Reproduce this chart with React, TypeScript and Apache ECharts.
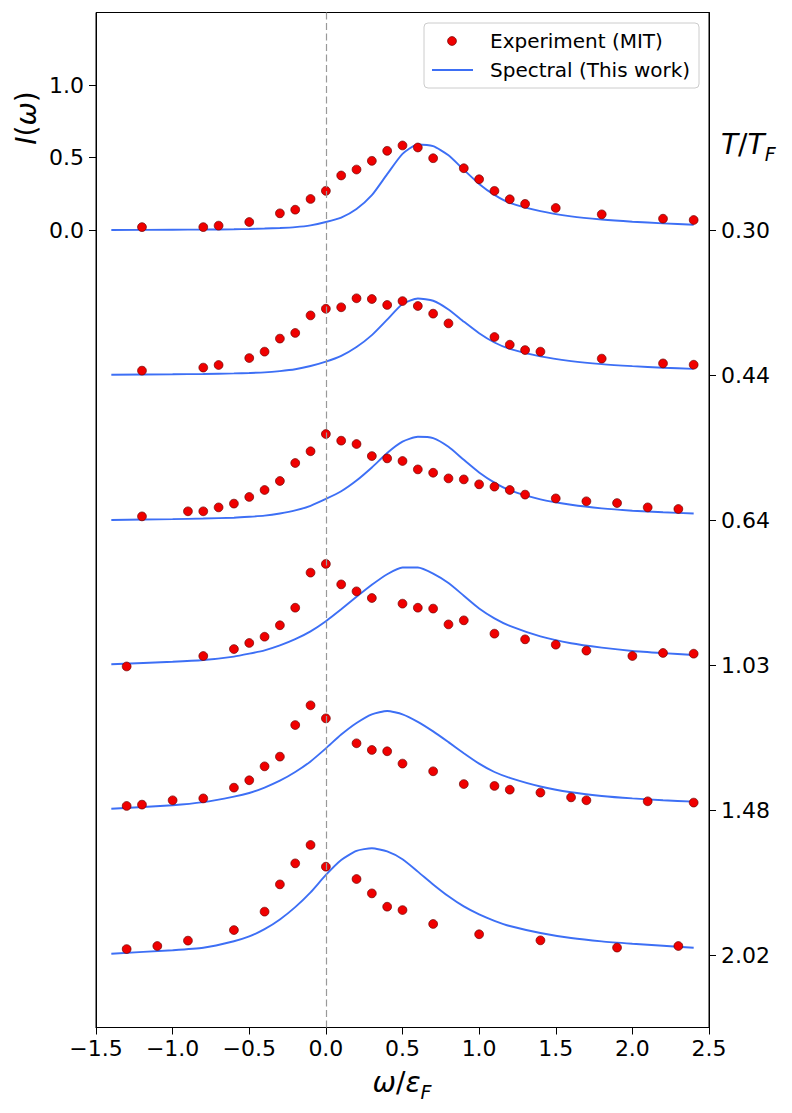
import React, { useEffect, useRef } from 'react';
import * as echarts from 'echarts';

// ---- data ----
const tLabels = ['0.30', '0.44', '0.64', '1.03', '1.48', '2.02'];
const xTickValues = [-1.5, -1.0, -0.5, 0.0, 0.5, 1.0, 1.5, 2.0, 2.5];
const leftTickValues = [0, 0.5, 1.0];
const rightTickValues = [0, -1, -2, -3, -4, -5];

// Experiment (MIT)
const expX1 = [-1.2, -0.8, -0.7, -0.5, -0.3, -0.2, -0.1, 0.0, 0.1, 0.2, 0.3, 0.4, 0.5, 0.6, 0.7, 0.9, 1.0, 1.1, 1.2, 1.3, 1.5, 1.8, 2.2, 2.4];
const expY1 = [0.02, 0.02, 0.03, 0.055, 0.115, 0.14, 0.214, 0.27, 0.376, 0.417, 0.477, 0.546, 0.583, 0.569, 0.495, 0.426, 0.35, 0.27, 0.212, 0.18, 0.152, 0.108, 0.078, 0.069];

const expX2 = [-1.2, -0.8, -0.7, -0.5, -0.4, -0.3, -0.2, -0.1, 0.0, 0.1, 0.2, 0.3, 0.4, 0.5, 0.6, 0.7, 0.8, 1.1, 1.2, 1.3, 1.4, 1.8, 2.2, 2.4];
const expY2 = [0.03, 0.051, 0.069, 0.117, 0.161, 0.251, 0.29, 0.411, 0.457, 0.467, 0.529, 0.524, 0.483, 0.51, 0.476, 0.423, 0.356, 0.262, 0.209, 0.172, 0.161, 0.113, 0.08, 0.071];

const expX3 = [-1.2, -0.9, -0.8, -0.7, -0.6, -0.5, -0.4, -0.3, -0.2, -0.1, 0.0, 0.1, 0.2, 0.3, 0.4, 0.5, 0.6, 0.7, 0.8, 0.9, 1.0, 1.1, 1.2, 1.3, 1.5, 1.7, 1.9, 2.1, 2.3];
const expY3 = [0.025, 0.06, 0.06, 0.087, 0.113, 0.159, 0.207, 0.269, 0.393, 0.474, 0.593, 0.547, 0.524, 0.441, 0.425, 0.407, 0.349, 0.326, 0.287, 0.28, 0.246, 0.23, 0.207, 0.175, 0.149, 0.129, 0.117, 0.087, 0.076];

const expX4 = [-1.3, -0.8, -0.6, -0.5, -0.4, -0.3, -0.2, -0.1, 0.0, 0.1, 0.2, 0.3, 0.5, 0.6, 0.7, 0.8, 0.9, 1.1, 1.3, 1.5, 1.7, 2.0, 2.2, 2.4];
const expY4 = [-0.01, 0.062, 0.11, 0.152, 0.195, 0.274, 0.395, 0.637, 0.697, 0.556, 0.508, 0.462, 0.423, 0.395, 0.389, 0.28, 0.308, 0.216, 0.177, 0.14, 0.099, 0.062, 0.083, 0.078];

const expX5 = [-1.3, -1.2, -1.0, -0.8, -0.6, -0.5, -0.4, -0.3, -0.2, -0.1, 0.0, 0.2, 0.3, 0.4, 0.5, 0.7, 0.9, 1.1, 1.2, 1.4, 1.6, 1.7, 2.1, 2.4];
const expY5 = [0.028, 0.037, 0.067, 0.08, 0.154, 0.205, 0.301, 0.368, 0.586, 0.722, 0.632, 0.46, 0.414, 0.405, 0.32, 0.267, 0.179, 0.166, 0.14, 0.12, 0.087, 0.067, 0.06, 0.051];

const expX6 = [-1.3, -1.1, -0.9, -0.6, -0.4, -0.3, -0.2, -0.1, 0.0, 0.2, 0.3, 0.4, 0.5, 0.7, 1.0, 1.4, 1.9, 2.3];
const expY6 = [0.041, 0.062, 0.099, 0.172, 0.299, 0.487, 0.632, 0.759, 0.609, 0.524, 0.425, 0.333, 0.31, 0.214, 0.143, 0.101, 0.051, 0.062];

// Spectral (This work)
const curveX = [-1.4, -1.0, -0.8, -0.6, -0.5, -0.4, -0.3, -0.2, -0.1, 0.0, 0.1, 0.2, 0.3, 0.4, 0.5, 0.6, 0.7, 0.8, 0.9, 1.0, 1.1, 1.2, 1.4, 1.6, 1.8, 2.0, 2.2, 2.4];
const curveY1 = [0.0, 0.002, 0.003, 0.005, 0.007, 0.01, 0.014, 0.02, 0.032, 0.055, 0.086, 0.145, 0.24, 0.385, 0.525, 0.59, 0.578, 0.515, 0.415, 0.318, 0.242, 0.187, 0.13, 0.094, 0.072, 0.057, 0.046, 0.036];
const curveY2 = [0.002, 0.005, 0.007, 0.011, 0.014, 0.018, 0.027, 0.04, 0.062, 0.092, 0.132, 0.193, 0.275, 0.382, 0.49, 0.528, 0.512, 0.452, 0.368, 0.288, 0.224, 0.18, 0.128, 0.096, 0.075, 0.061, 0.05, 0.042];
const curveY3 = [0.0, 0.006, 0.01, 0.016, 0.022, 0.03, 0.045, 0.066, 0.098, 0.145, 0.198, 0.272, 0.362, 0.462, 0.54, 0.574, 0.565, 0.505, 0.415, 0.328, 0.258, 0.205, 0.142, 0.105, 0.08, 0.064, 0.053, 0.045];
const curveY4 = [0.005, 0.022, 0.034, 0.058, 0.078, 0.101, 0.135, 0.178, 0.232, 0.302, 0.384, 0.47, 0.553, 0.626, 0.672, 0.672, 0.63, 0.565, 0.478, 0.39, 0.322, 0.27, 0.198, 0.15, 0.12, 0.097, 0.082, 0.069];
const curveY5 = [0.009, 0.033, 0.054, 0.092, 0.117, 0.155, 0.202, 0.262, 0.335, 0.425, 0.52, 0.6, 0.66, 0.683, 0.66, 0.608, 0.542, 0.468, 0.392, 0.32, 0.262, 0.222, 0.162, 0.122, 0.097, 0.08, 0.067, 0.058];
const curveY6 = [0.009, 0.033, 0.05, 0.095, 0.128, 0.178, 0.245, 0.33, 0.432, 0.552, 0.655, 0.718, 0.736, 0.714, 0.66, 0.575, 0.487, 0.405, 0.335, 0.28, 0.236, 0.2, 0.152, 0.117, 0.094, 0.078, 0.064, 0.05];

const expXs = [expX1, expX2, expX3, expX4, expX5, expX6];
const expYs = [expY1, expY2, expY3, expY4, expY5, expY6];
const curveYs = [curveY1, curveY2, curveY3, curveY4, curveY5, curveY6];
const panelOffsets = [0, 1, 2, 3, 4, 5];

const FONT = 'DejaVu Sans';
const BLUE = '#3d6ff5';
const RED = '#f00000';
const EDGE = '#6b0000';

function fmtNum(v: number, d: number) {
  const s = Math.abs(v).toFixed(d);
  return v < 0 ? '\u2212' + s : s;
}

export default function App() {
  const ref = useRef<HTMLDivElement>(null);

  useEffect(() => {
    if (!ref.current) return;
    const chart = echarts.init(ref.current, undefined, { renderer: 'svg' });

    const series: any[] = [];
    series.push({
      type: 'line',
      data: [],
      z: 1,
      silent: true,
      markLine: {
        silent: true,
        symbol: ['none', 'none'],
        label: { show: false },
        lineStyle: { color: '#999999', width: 1.2, type: [7, 3.5] },
        data: [{ xAxis: 0 }],
      },
    });
    panelOffsets.forEach((k) => {
      series.push({
        name: 'Spectral (This work)',
        type: 'line',
        symbol: 'none',
        showSymbol: false,
        smooth: 0.2,
        z: 2,
        lineStyle: { color: BLUE, width: 1.9 },
        data: curveX.map((x, i) => [x, curveYs[k][i] - k]),
      });
    });
    panelOffsets.forEach((k) => {
      series.push({
        name: 'Experiment (MIT)',
        type: 'scatter',
        symbol: 'circle',
        symbolSize: 8.8,
        z: 3,
        itemStyle: { color: RED, borderColor: EDGE, borderWidth: 0.7, opacity: 1 },
        data: expXs[k].map((x, i) => [x, expYs[k][i] - k]),
      });
    });

    const itRich = {
      it: { fontStyle: 'italic', fontSize: 28, fontFamily: FONT, lineHeight: 38, fill: '#000' },
      up: { fontSize: 28, fontFamily: FONT, lineHeight: 38, fill: '#000' },
      sub: { fontStyle: 'italic', fontSize: 19, fontFamily: FONT, lineHeight: 19, verticalAlign: 'bottom', fill: '#000' },
    };

    chart.setOption({
      animation: false,
      backgroundColor: '#ffffff',
      textStyle: { fontFamily: FONT },
      grid: {
        left: 96,
        right: 83,
        top: 12.5,
        bottom: 85.5,
        show: true,
        borderColor: '#000',
        borderWidth: 1,
        backgroundColor: 'transparent',
      },
      xAxis: {
        type: 'value',
        min: -1.5,
        max: 2.5,
        interval: 0.5,
        splitLine: { show: false },
        axisLine: { show: true, onZero: false, lineStyle: { color: '#000', width: 1 } },
        axisTick: { show: true, length: 7, lineStyle: { color: '#000', width: 1 }, customValues: xTickValues },
        axisLabel: {
          color: '#000',
          fontSize: 22,
          fontFamily: FONT,
          margin: 10,
          customValues: xTickValues,
          formatter: (v: number) => fmtNum(v, 1),
        },
      },
      yAxis: [
        {
          type: 'value',
          position: 'left',
          min: -5.5,
          max: 1.5,
          interval: 0.5,
          splitLine: { show: false },
          axisLine: { show: true, onZero: false, lineStyle: { color: '#000', width: 1 } },
          axisTick: { show: true, length: 7, lineStyle: { color: '#000', width: 1 }, customValues: leftTickValues },
          axisLabel: {
            color: '#000',
            fontSize: 22,
            fontFamily: FONT,
            margin: 12,
            customValues: leftTickValues,
            formatter: (v: number) => fmtNum(v, 1),
          },
        },
        {
          type: 'value',
          position: 'right',
          min: -5.5,
          max: 1.5,
          interval: 0.5,
          splitLine: { show: false },
          axisLine: { show: true, onZero: false, lineStyle: { color: '#000', width: 1 } },
          axisTick: { show: true, length: 7, lineStyle: { color: '#000', width: 1 }, customValues: rightTickValues },
          axisLabel: {
            color: '#000',
            fontSize: 22,
            fontFamily: FONT,
            margin: 12,
            customValues: rightTickValues,
            formatter: (v: number) => tLabels[Math.round(-v)] ?? '',
          },
        },
      ],
      series,
      graphic: [
        {
          type: 'rect',
          z: 100,
          shape: { x: 424, y: 23, width: 275, height: 65, r: 4 },
          style: { fill: 'rgba(255,255,255,0.8)', stroke: '#cccccc', lineWidth: 1 },
        },
        {
          type: 'circle',
          z: 101,
          shape: { cx: 452, cy: 41, r: 4.4 },
          style: { fill: RED, stroke: EDGE, lineWidth: 0.7 },
        },
        {
          type: 'line',
          z: 101,
          shape: { x1: 432, y1: 70, x2: 473, y2: 70 },
          style: { stroke: BLUE, lineWidth: 1.9 },
        },
        {
          type: 'text',
          z: 101,
          x: 490,
          y: 41,
          style: { text: 'Experiment (MIT)', fontSize: 20, fontFamily: FONT, fill: '#000', verticalAlign: 'middle', align: 'left' },
        },
        {
          type: 'text',
          z: 101,
          x: 490,
          y: 70,
          style: { text: 'Spectral (This work)', fontSize: 20, fontFamily: FONT, fill: '#000', verticalAlign: 'middle', align: 'left' },
        },
        {
          type: 'text',
          z: 101,
          x: 26,
          y: 118,
          rotation: Math.PI / 2,
          style: {
            text: '{it|I}{up|(}{it|ω}{up|)}',
            rich: itRich,
            fontSize: 28,
            fontFamily: FONT,
            align: 'center',
            verticalAlign: 'middle',
          },
        },
        {
          type: 'text',
          z: 101,
          x: 721,
          y: 144,
          style: {
            text: '{it|T}{up|/}{it|T}{sub|F}',
            rich: itRich,
            fontSize: 28,
            fontFamily: FONT,
            align: 'left',
            verticalAlign: 'middle',
          },
        },
        {
          type: 'text',
          z: 101,
          x: 402,
          y: 1082,
          style: {
            text: '{it|ω}{up|/}{it|ε}{sub|F}',
            rich: itRich,
            fontSize: 28,
            fontFamily: FONT,
            align: 'center',
            verticalAlign: 'middle',
          },
        },
      ],
    });

    return () => {
      chart.dispose();
    };
  }, []);

  return (
    <div
      ref={ref}
      style={{ position: 'fixed', left: 0, top: 0, width: 792, height: 1113, background: '#fff' }}
    />
  );
}
